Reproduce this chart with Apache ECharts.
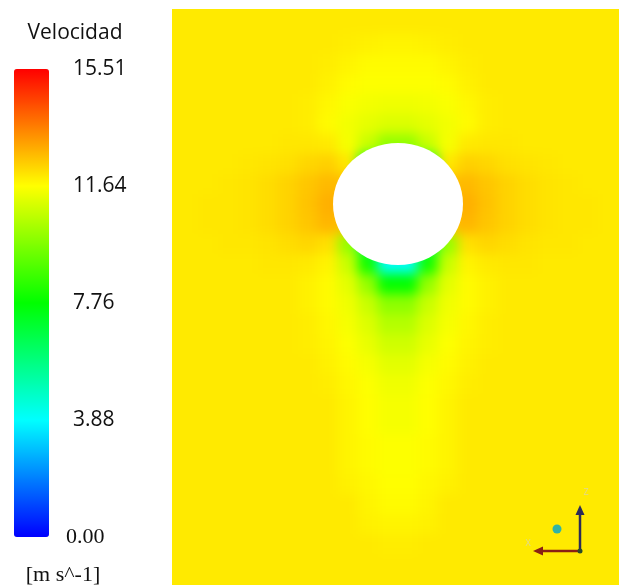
<!DOCTYPE html>
<html>
<head>
<meta charset="utf-8">
<title>Velocidad</title>
<script src="https://cdn.jsdelivr.net/npm/echarts@6/dist/echarts.min.js"></script>
<style>
  html, body { margin: 0; padding: 0; background: #fff; overflow: hidden; }
  #fieldClip { position: absolute; left: 172px; top: 9px; width: 447px; height: 576px; overflow: hidden; }
  #field { position: absolute; left: -34px; top: -35px; width: 500px; height: 640px; filter: blur(6px); }
  #overlay { position: absolute; left: 0; top: 0; width: 619px; height: 585px; }
</style>
</head>
<body>
<div id="fieldClip"><div id="field"></div></div>
<div id="overlay"></div>
<script>
// velocity range of the legend, m/s
const speedMin = 0;
const speedMax = 15.51;
const legendValues = [3.88, 7.76, 11.64, 15.51];
const legendMinValue = [0];
const rainbow = ['#0000ff', '#00ffff', '#00ff00', '#ffff00', '#ff0000'];

// cell indices of the field grid (20px cells)
const xCells = [0,1,2,3,4,5,6,7,8,9,10,11,12,13,14,15,16,17,18,19,20,21,22,23,24];
const yCells = [0,1,2,3,4,5,6,7,8,9,10,11,12,13,14,15,16,17,18,19,20,21,22,23,24,25,26,27,28,29,30,31];

// cylinder: centre x, centre y, radius x, radius y (cell units)
const cylinder = [13, 11.5, 3.25, 3.05];

// velocity, one row per cell row
const speedRows = [
  [11.95,11.95,11.95,11.95,11.95,11.95,11.95,11.95,11.95,11.95,11.95,11.95,11.95,11.95,11.95,11.95,11.95,11.95,11.95,11.95,11.95,11.95,11.95,11.95,11.95],
  [11.95,11.95,11.95,11.95,11.95,11.95,11.95,11.95,11.95,11.95,11.95,11.95,11.95,11.95,11.95,11.95,11.95,11.95,11.95,11.95,11.95,11.95,11.95,11.95,11.95],
  [11.95,11.95,11.95,11.95,11.95,11.95,11.95,11.95,11.95,11.95,11.95,11.95,11.95,11.95,11.95,11.95,11.95,11.95,11.95,11.95,11.95,11.95,11.95,11.95,11.95],
  [11.95,11.95,11.95,11.95,11.95,11.95,11.95,11.95,11.95,11.95,11.9,11.85,11.8,11.8,11.85,11.9,11.95,11.95,11.95,11.95,11.95,11.95,11.95,11.95,11.95],
  [11.95,11.95,11.95,11.95,11.95,11.95,11.95,11.95,11.95,11.9,11.8,11.7,11.7,11.7,11.7,11.8,11.9,11.95,11.95,11.95,11.95,11.95,11.95,11.95,11.95],
  [11.95,11.95,11.95,11.95,11.95,11.95,11.95,11.95,11.95,11.85,11.7,11.6,11.6,11.6,11.6,11.7,11.85,11.95,11.95,11.95,11.95,11.95,11.95,11.95,11.95],
  [11.95,11.95,11.95,11.95,11.95,11.95,11.95,11.95,11.9,11.75,11.55,11.45,11.4,11.4,11.45,11.55,11.75,11.9,11.95,11.95,11.95,11.95,11.95,11.95,11.95],
  [11.95,11.95,11.95,11.95,11.95,11.95,11.95,11.95,11.9,11.7,11.45,11.25,11.1,11.1,11.25,11.45,11.7,11.9,11.95,11.95,11.95,11.95,11.95,11.95,11.95],
  [11.95,11.95,11.95,11.95,11.95,11.95,11.95,12.0,12.0,11.95,11.5,10.8,10.0,10.0,10.8,11.5,11.95,12.0,12.0,11.95,11.95,11.95,11.95,11.95,11.95],
  [11.95,11.95,11.95,11.95,11.95,12.0,12.05,12.1,12.25,12.35,12.0,7.0,6.5,6.5,7.0,12.0,12.35,12.25,12.1,12.05,12.0,11.95,11.95,11.95,11.95],
  [11.95,11.95,11.95,11.95,12.0,12.05,12.15,12.3,12.5,12.7,12.6,11.8,11.0,11.0,11.8,12.6,12.7,12.5,12.3,12.15,12.05,12.0,11.95,11.95,11.95],
  [11.95,11.95,11.95,12.0,12.0,12.05,12.15,12.3,12.55,12.85,12.8,12.3,11.8,11.8,12.3,12.8,12.85,12.55,12.3,12.15,12.05,12.0,12.0,11.95,11.95],
  [11.95,11.95,11.95,12.0,12.0,12.05,12.15,12.3,12.5,12.75,12.6,11.0,9.0,9.0,11.0,12.6,12.75,12.5,12.3,12.15,12.05,12.0,12.0,11.95,11.95],
  [11.95,11.95,11.95,11.95,12.0,12.0,12.05,12.15,12.25,12.1,10.0,6.5,4.5,4.5,6.5,10.0,12.1,12.25,12.15,12.05,12.0,12.0,11.95,11.95,11.95],
  [11.95,11.95,11.95,11.95,11.95,11.95,12.0,12.0,11.95,11.8,10.8,8.0,4.0,4.0,8.0,10.8,11.8,11.95,12.0,12.0,11.95,11.95,11.95,11.95,11.95],
  [11.95,11.95,11.95,11.95,11.95,11.95,11.95,11.95,11.85,11.7,11.2,10.0,7.8,7.8,10.0,11.2,11.7,11.85,11.95,11.95,11.95,11.95,11.95,11.95,11.95],
  [11.95,11.95,11.95,11.95,11.95,11.95,11.95,11.95,11.85,11.7,11.4,10.8,9.9,9.9,10.8,11.4,11.7,11.85,11.95,11.95,11.95,11.95,11.95,11.95,11.95],
  [11.95,11.95,11.95,11.95,11.95,11.95,11.95,11.95,11.9,11.75,11.5,11.1,10.5,10.5,11.1,11.5,11.75,11.9,11.95,11.95,11.95,11.95,11.95,11.95,11.95],
  [11.95,11.95,11.95,11.95,11.95,11.95,11.95,11.95,11.9,11.8,11.6,11.3,10.9,10.9,11.3,11.6,11.8,11.9,11.95,11.95,11.95,11.95,11.95,11.95,11.95],
  [11.95,11.95,11.95,11.95,11.95,11.95,11.95,11.95,11.95,11.85,11.7,11.5,11.2,11.2,11.5,11.7,11.85,11.95,11.95,11.95,11.95,11.95,11.95,11.95,11.95],
  [11.95,11.95,11.95,11.95,11.95,11.95,11.95,11.95,11.95,11.9,11.75,11.6,11.4,11.4,11.6,11.75,11.9,11.95,11.95,11.95,11.95,11.95,11.95,11.95,11.95],
  [11.95,11.95,11.95,11.95,11.95,11.95,11.95,11.95,11.95,11.95,11.8,11.65,11.5,11.5,11.65,11.8,11.95,11.95,11.95,11.95,11.95,11.95,11.95,11.95,11.95],
  [11.95,11.95,11.95,11.95,11.95,11.95,11.95,11.95,11.95,11.95,11.8,11.65,11.5,11.5,11.65,11.8,11.95,11.95,11.95,11.95,11.95,11.95,11.95,11.95,11.95],
  [11.95,11.95,11.95,11.95,11.95,11.95,11.95,11.95,11.95,11.95,11.8,11.7,11.6,11.6,11.7,11.8,11.95,11.95,11.95,11.95,11.95,11.95,11.95,11.95,11.95],
  [11.95,11.95,11.95,11.95,11.95,11.95,11.95,11.95,11.95,11.95,11.8,11.7,11.6,11.6,11.7,11.8,11.95,11.95,11.95,11.95,11.95,11.95,11.95,11.95,11.95],
  [11.95,11.95,11.95,11.95,11.95,11.95,11.95,11.95,11.95,11.95,11.85,11.75,11.65,11.65,11.75,11.85,11.95,11.95,11.95,11.95,11.95,11.95,11.95,11.95,11.95],
  [11.95,11.95,11.95,11.95,11.95,11.95,11.95,11.95,11.95,11.95,11.95,11.8,11.7,11.7,11.8,11.95,11.95,11.95,11.95,11.95,11.95,11.95,11.95,11.95,11.95],
  [11.95,11.95,11.95,11.95,11.95,11.95,11.95,11.95,11.95,11.95,11.95,11.85,11.8,11.8,11.85,11.95,11.95,11.95,11.95,11.95,11.95,11.95,11.95,11.95,11.95],
  [11.95,11.95,11.95,11.95,11.95,11.95,11.95,11.95,11.95,11.95,11.95,11.95,11.9,11.9,11.95,11.95,11.95,11.95,11.95,11.95,11.95,11.95,11.95,11.95,11.95],
  [11.95,11.95,11.95,11.95,11.95,11.95,11.95,11.95,11.95,11.95,11.95,11.95,11.95,11.95,11.95,11.95,11.95,11.95,11.95,11.95,11.95,11.95,11.95,11.95,11.95],
  [11.95,11.95,11.95,11.95,11.95,11.95,11.95,11.95,11.95,11.95,11.95,11.95,11.95,11.95,11.95,11.95,11.95,11.95,11.95,11.95,11.95,11.95,11.95,11.95,11.95],
  [11.95,11.95,11.95,11.95,11.95,11.95,11.95,11.95,11.95,11.95,11.95,11.95,11.95,11.95,11.95,11.95,11.95,11.95,11.95,11.95,11.95,11.95,11.95,11.95,11.95]
];

const fieldData = [];
speedRows.forEach((row, r) => {
  row.forEach((v, c) => fieldData.push([c, r, v]));
});

// contour field (blurred by css so the cells blend like the solver output)
const fieldChart = echarts.init(document.getElementById('field'), null, { renderer: 'canvas' });
fieldChart.setOption({
  animation: false,
  backgroundColor: 'transparent',
  grid: { left: 0, right: 0, top: 0, bottom: 0, containLabel: false, outerBoundsMode: 'none' },
  xAxis: { type: 'category', data: xCells, show: false },
  yAxis: { type: 'category', data: yCells, inverse: true, show: false },
  visualMap: {
    show: false,
    min: speedMin,
    max: speedMax,
    dimension: 2,
    inRange: { color: rainbow }
  },
  series: [{
    type: 'heatmap',
    data: fieldData,
    itemStyle: { borderWidth: 0 },
    emphasis: { disabled: true }
  }]
});

// legend, cylinder and labels
const sans = '"Open Sans", "Noto Sans", sans-serif';
const serif = '"Liberation Serif", "DejaVu Serif", serif';
const overlay = echarts.init(document.getElementById('overlay'), null, { renderer: 'canvas' });
overlay.setOption({
  animation: false,
  backgroundColor: 'transparent',
  grid: [
    { left: 172, top: 9, width: 447, height: 576, containLabel: false, outerBoundsMode: 'none' },
    { left: 14, top: 69, width: 35, height: 468, containLabel: false, outerBoundsMode: 'none' },
    { left: 14, top: 69, width: 35, height: 468, containLabel: false, outerBoundsMode: 'none' }
  ],
  xAxis: [
    { gridIndex: 0, type: 'value', min: 1.7, max: 24.05, show: false },
    { gridIndex: 1, type: 'value', show: false },
    { gridIndex: 2, type: 'value', show: false }
  ],
  yAxis: [
    { gridIndex: 0, type: 'value', min: 1.75, max: 30.55, inverse: true, show: false },
    {
      gridIndex: 1,
      type: 'value',
      position: 'right',
      min: speedMin,
      max: speedMax,
      axisLine: { show: false },
      splitLine: { show: false },
      axisTick: {
        show: true,
        customValues: [3.88, 7.76, 11.64],
        length: 5,
        lineStyle: { color: '#d4d4d4', width: 1 }
      },
      axisLabel: {
        customValues: legendValues,
        formatter: (v) => v.toFixed(2),
        margin: 24,
        padding: [14, 0, 0, 0],
        verticalAlign: 'middle',
        color: '#111',
        fontFamily: sans,
        fontSize: 21
      }
    },
    {
      gridIndex: 2,
      type: 'value',
      position: 'right',
      min: speedMin,
      max: speedMax,
      axisLine: { show: false },
      splitLine: { show: false },
      axisTick: { show: false },
      axisLabel: {
        customValues: legendMinValue,
        formatter: (v) => v.toFixed(2),
        margin: 17,
        padding: [0, 0, 10, 0],
        verticalAlign: 'middle',
        color: '#111',
        fontFamily: serif,
        fontSize: 22
      }
    }
  ],
  visualMap: {
    type: 'continuous',
    seriesIndex: [],
    min: speedMin,
    max: speedMax,
    left: 14,
    top: 69,
    padding: 0,
    itemWidth: 35,
    itemHeight: 468,
    calculable: false,
    hoverLink: false,
    text: null,
    inRange: { color: rainbow }
  },
  series: [{
    type: 'custom',
    xAxisIndex: 0,
    yAxisIndex: 0,
    data: [cylinder],
    silent: true,
    renderItem: (params, api) => {
      const c = api.coord([api.value(0), api.value(1)]);
      const s = api.size([api.value(2), api.value(3)]);
      return {
        type: 'ellipse',
        shape: { cx: c[0], cy: c[1], rx: s[0], ry: Math.abs(s[1]) },
        style: { fill: '#ffffff' }
      };
    }
  }],
  graphic: [
    {
      type: 'text',
      style: { text: 'Velocidad', x: 75, y: 33, align: 'center', verticalAlign: 'middle', fill: '#111', font: '21px ' + sans }
    },
    {
      type: 'text',
      style: { text: '[m s^-1]', x: 63, y: 575, align: 'center', verticalAlign: 'middle', fill: '#111', font: '22px ' + serif }
    },
    // axis triad
    { type: 'line', shape: { x1: 580, y1: 551, x2: 580, y2: 512 }, style: { stroke: '#2b2b58', lineWidth: 2.5 } },
    { type: 'polygon', shape: { points: [[575.5, 515], [584.5, 515], [580, 505]] }, style: { fill: '#2b2b58' } },
    { type: 'line', shape: { x1: 580, y1: 551, x2: 541, y2: 551 }, style: { stroke: '#8a2014', lineWidth: 2.5 } },
    { type: 'polygon', shape: { points: [[543, 546.5], [543, 555.5], [533, 551]] }, style: { fill: '#8a2014' } },
    { type: 'circle', shape: { cx: 580, cy: 551, r: 2.5 }, style: { fill: '#2a4a2a' } },
    { type: 'circle', shape: { cx: 557, cy: 529, r: 4.5 }, style: { fill: '#2fb3a5' } },
    { type: 'text', style: { text: 'Z', x: 586, y: 492, align: 'center', verticalAlign: 'middle', fill: '#e0d890', font: '9px ' + sans } },
    { type: 'text', style: { text: 'X', x: 528, y: 543, align: 'center', verticalAlign: 'middle', fill: '#e0d890', font: '9px ' + sans } }
  ]
});
</script>
</body>
</html>
